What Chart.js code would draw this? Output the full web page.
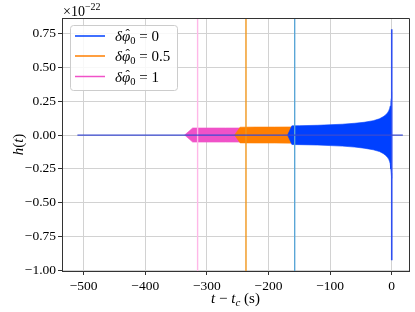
<!DOCTYPE html>
<html><head><meta charset="utf-8">
<script src="https://cdn.jsdelivr.net/npm/chart.js@4/dist/chart.umd.min.js"></script>
<style>html,body{margin:0;padding:0;background:#fff;overflow:hidden}canvas{display:block}</style>
</head><body>
<canvas id="c" width="415" height="312"></canvas>
<script>
// ---- data ----
const phaseOffsets = ['0', '0.5', '1'];
const seriesColors = ['#0040ff', '#ff7f00', '#f052c8'];
const markerColors = ['#5aa6d6', '#f0961c', '#ffb8e8'];
const markerTimes = [-157.5, -236.5, -315];

// envelope of the blue (δφ0 = 0) waveform
const blueT     = [-169, -162, -150, -120, -100, -80, -60, -45, -30, -20, -14, -10, -7, -5, -3.5, -2.5, -1.5, -0.8, -0.3, 0];
const blueUpper = [0, 0.068, 0.069, 0.072, 0.076, 0.080, 0.087, 0.094, 0.106, 0.120, 0.135, 0.148, 0.163, 0.178, 0.195, 0.215, 0.24, 0.27, 0.30, 0.32];
const blueLower = [0, -0.070, -0.071, -0.074, -0.078, -0.082, -0.089, -0.097, -0.109, -0.122, -0.136, -0.150, -0.165, -0.178, -0.195, -0.212, -0.25, -0.28, -0.30, -0.32];
// envelope of the orange (δφ0 = 0.5) waveform
const orangeT     = [-255, -246, -220, -190, -160];
const orangeUpper = [0, 0.058, 0.059, 0.059, 0.060];
const orangeLower = [0, -0.058, -0.059, -0.059, -0.060];
// envelope of the magenta (δφ0 = 1) waveform
const magentaT     = [-336, -323, -300, -270, -245];
const magentaUpper = [0, 0.052, 0.052, 0.052, 0.052];
const magentaLower = [0, -0.052, -0.052, -0.052, -0.052];
// quiet part before the signals and the merger spike
const zeroLineT = [-510, 18];
const spikeY = [0.782, -0.926];

const xTicks = [-500, -400, -300, -200, -100, 0];
const yTicks = [-1.00, -0.75, -0.50, -0.25, 0.00, 0.25, 0.50, 0.75];
const xRange = [-535, 28];
const yRange = [-1.005, 0.865];

const pts = (ts, ys) => ts.map((t, i) => ({x: t, y: ys[i]}));
const minus = s => s.replace('-', '\u2212');

const datasets = [
  {label: 'zero', data: pts(zeroLineT, [0, 0]), borderColor: '#3b4bd2', borderWidth: 1.3, order: 0},
  {label: 'spike', data: spikeY.map(v => ({x: 0, y: v})), borderColor: '#2f4ff0', borderWidth: 1.6, order: 0},
];
markerTimes.forEach((t, i) => datasets.push({
  label: 'marker' + i, data: yRange.map(v => ({x: t, y: v})), borderColor: markerColors[i], borderWidth: 1.4, order: 1
}));
const env = [[blueT, blueUpper, blueLower], [orangeT, orangeUpper, orangeLower], [magentaT, magentaUpper, magentaLower]];
env.forEach((e, i) => {
  datasets.push({label: 'up' + i, data: pts(e[0], e[1]), borderColor: seriesColors[i], backgroundColor: seriesColors[i], borderWidth: 0.6, fill: '+1', order: 2 + i});
  datasets.push({label: 'lo' + i, data: pts(e[0], e[2]), borderColor: seriesColors[i], borderWidth: 0.6, fill: false, order: 2 + i});
});

const SERIF = '"Liberation Serif", "DejaVu Serif", serif';

function drawRuns(ctx, runs, x, y, align) {
  let total = 0;
  runs.forEach(r => { ctx.font = r.font; r.w = ctx.measureText(r.text).width; total += r.w; });
  let cx = align === 'center' ? x - total / 2 : x;
  ctx.textAlign = 'left';
  runs.forEach(r => {
    ctx.font = r.font;
    ctx.fillText(r.text, cx, y + (r.dy || 0));
    if (r.hat) {
      ctx.save();
      ctx.font = '13px ' + SERIF;
      ctx.textAlign = 'center';
      ctx.fillText('\u02C6', cx + r.w / 2 + 1.5, y - 3);
      ctx.restore();
    }
    cx += r.w;
  });
}

const decor = {
  id: 'decor',
  afterDraw(chart) {
    const ctx = chart.ctx, a = chart.chartArea;
    ctx.save();
    // top and right spines
    ctx.strokeStyle = '#333';
    ctx.lineWidth = 1;
    ctx.beginPath();
    ctx.moveTo(a.left, a.top + 0.5); ctx.lineTo(a.right + 0.5, a.top + 0.5); ctx.lineTo(a.right + 0.5, a.bottom);
    ctx.stroke();
    ctx.fillStyle = '#000';
    ctx.textBaseline = 'alphabetic';
    // offset text
    drawRuns(ctx, [
      {text: '\u00D710', font: '14px ' + SERIF},
      {text: '\u221222', font: '10px ' + SERIF, dy: -6}
    ], 63, 15.5, 'left');
    // x title
    drawRuns(ctx, [
      {text: 't', font: 'italic 15px ' + SERIF},
      {text: ' \u2212 ', font: '15px ' + SERIF},
      {text: 't', font: 'italic 15px ' + SERIF},
      {text: 'c', font: 'italic 11px ' + SERIF, dy: 3},
      {text: ' (s)', font: '15px ' + SERIF}
    ], (a.left + a.right) / 2, 303, 'center');
    // y title
    ctx.save();
    ctx.translate(23, (a.top + a.bottom) / 2);
    ctx.rotate(-Math.PI / 2);
    drawRuns(ctx, [
      {text: 'h', font: 'italic 15px ' + SERIF},
      {text: '(', font: '15px ' + SERIF},
      {text: 't', font: 'italic 15px ' + SERIF},
      {text: ')', font: '15px ' + SERIF}
    ], 0, 0, 'center');
    ctx.restore();
    // legend
    const bx = 70, by = 25, bw = 107, bh = 65, r = 3;
    ctx.fillStyle = 'rgba(255,255,255,0.85)';
    ctx.strokeStyle = '#cccccc';
    ctx.lineWidth = 1;
    ctx.beginPath();
    ctx.roundRect(bx + 0.5, by + 0.5, bw, bh, r);
    ctx.fill(); ctx.stroke();
    const rows = [36, 56, 76.5];
    phaseOffsets.forEach((v, i) => {
      ctx.strokeStyle = seriesColors[i];
      ctx.lineWidth = 1.5;
      ctx.beginPath(); ctx.moveTo(75, rows[i]); ctx.lineTo(105, rows[i]); ctx.stroke();
      ctx.fillStyle = '#000';
      drawRuns(ctx, [
        {text: '\u03B4', font: 'italic 15px ' + SERIF},
        {text: '\u03C6', font: 'italic 15px ' + SERIF, hat: true},
        {text: '0', font: '10.5px ' + SERIF, dy: 3},
        {text: ' = ' + v, font: '15px ' + SERIF}
      ], 115, rows[i] + 5, 'left');
    });
    ctx.restore();
  }
};

new Chart(document.getElementById('c'), {
  type: 'scatter',
  data: {datasets},
  options: {
    responsive: false, animation: false, devicePixelRatio: 1,
    showLine: true,
    elements: {point: {radius: 0, hoverRadius: 0}, line: {tension: 0}},
    layout: {padding: {left: 0, top: 18, right: 6, bottom: 0}},
    plugins: {legend: {display: false}, tooltip: {enabled: false}},
    scales: {
      x: {
        type: 'linear', min: xRange[0], max: xRange[1],
        afterBuildTicks: s => { s.ticks = xTicks.map(v => ({value: v})); },
        afterFit: s => { s.height = 41; },
        grid: {color: '#d2d2d2', lineWidth: 1, tickColor: '#333', tickLength: 4},
        border: {color: '#333', width: 1},
        ticks: {color: '#000', padding: 3, maxRotation: 0, font: {family: SERIF, size: 13.5}, callback: v => minus(String(v))}
      },
      y: {
        type: 'linear', min: yRange[0], max: yRange[1],
        afterBuildTicks: s => { s.ticks = yTicks.map(v => ({value: v})); },
        afterFit: s => { s.width = 62; },
        grid: {color: '#d2d2d2', lineWidth: 1, tickColor: '#333', tickLength: 4},
        border: {color: '#333', width: 1},
        ticks: {color: '#000', padding: 2, font: {family: SERIF, size: 13.5}, callback: v => minus(v.toFixed(2))}
      }
    }
  },
  plugins: [decor]
});
</script>
</body></html>
